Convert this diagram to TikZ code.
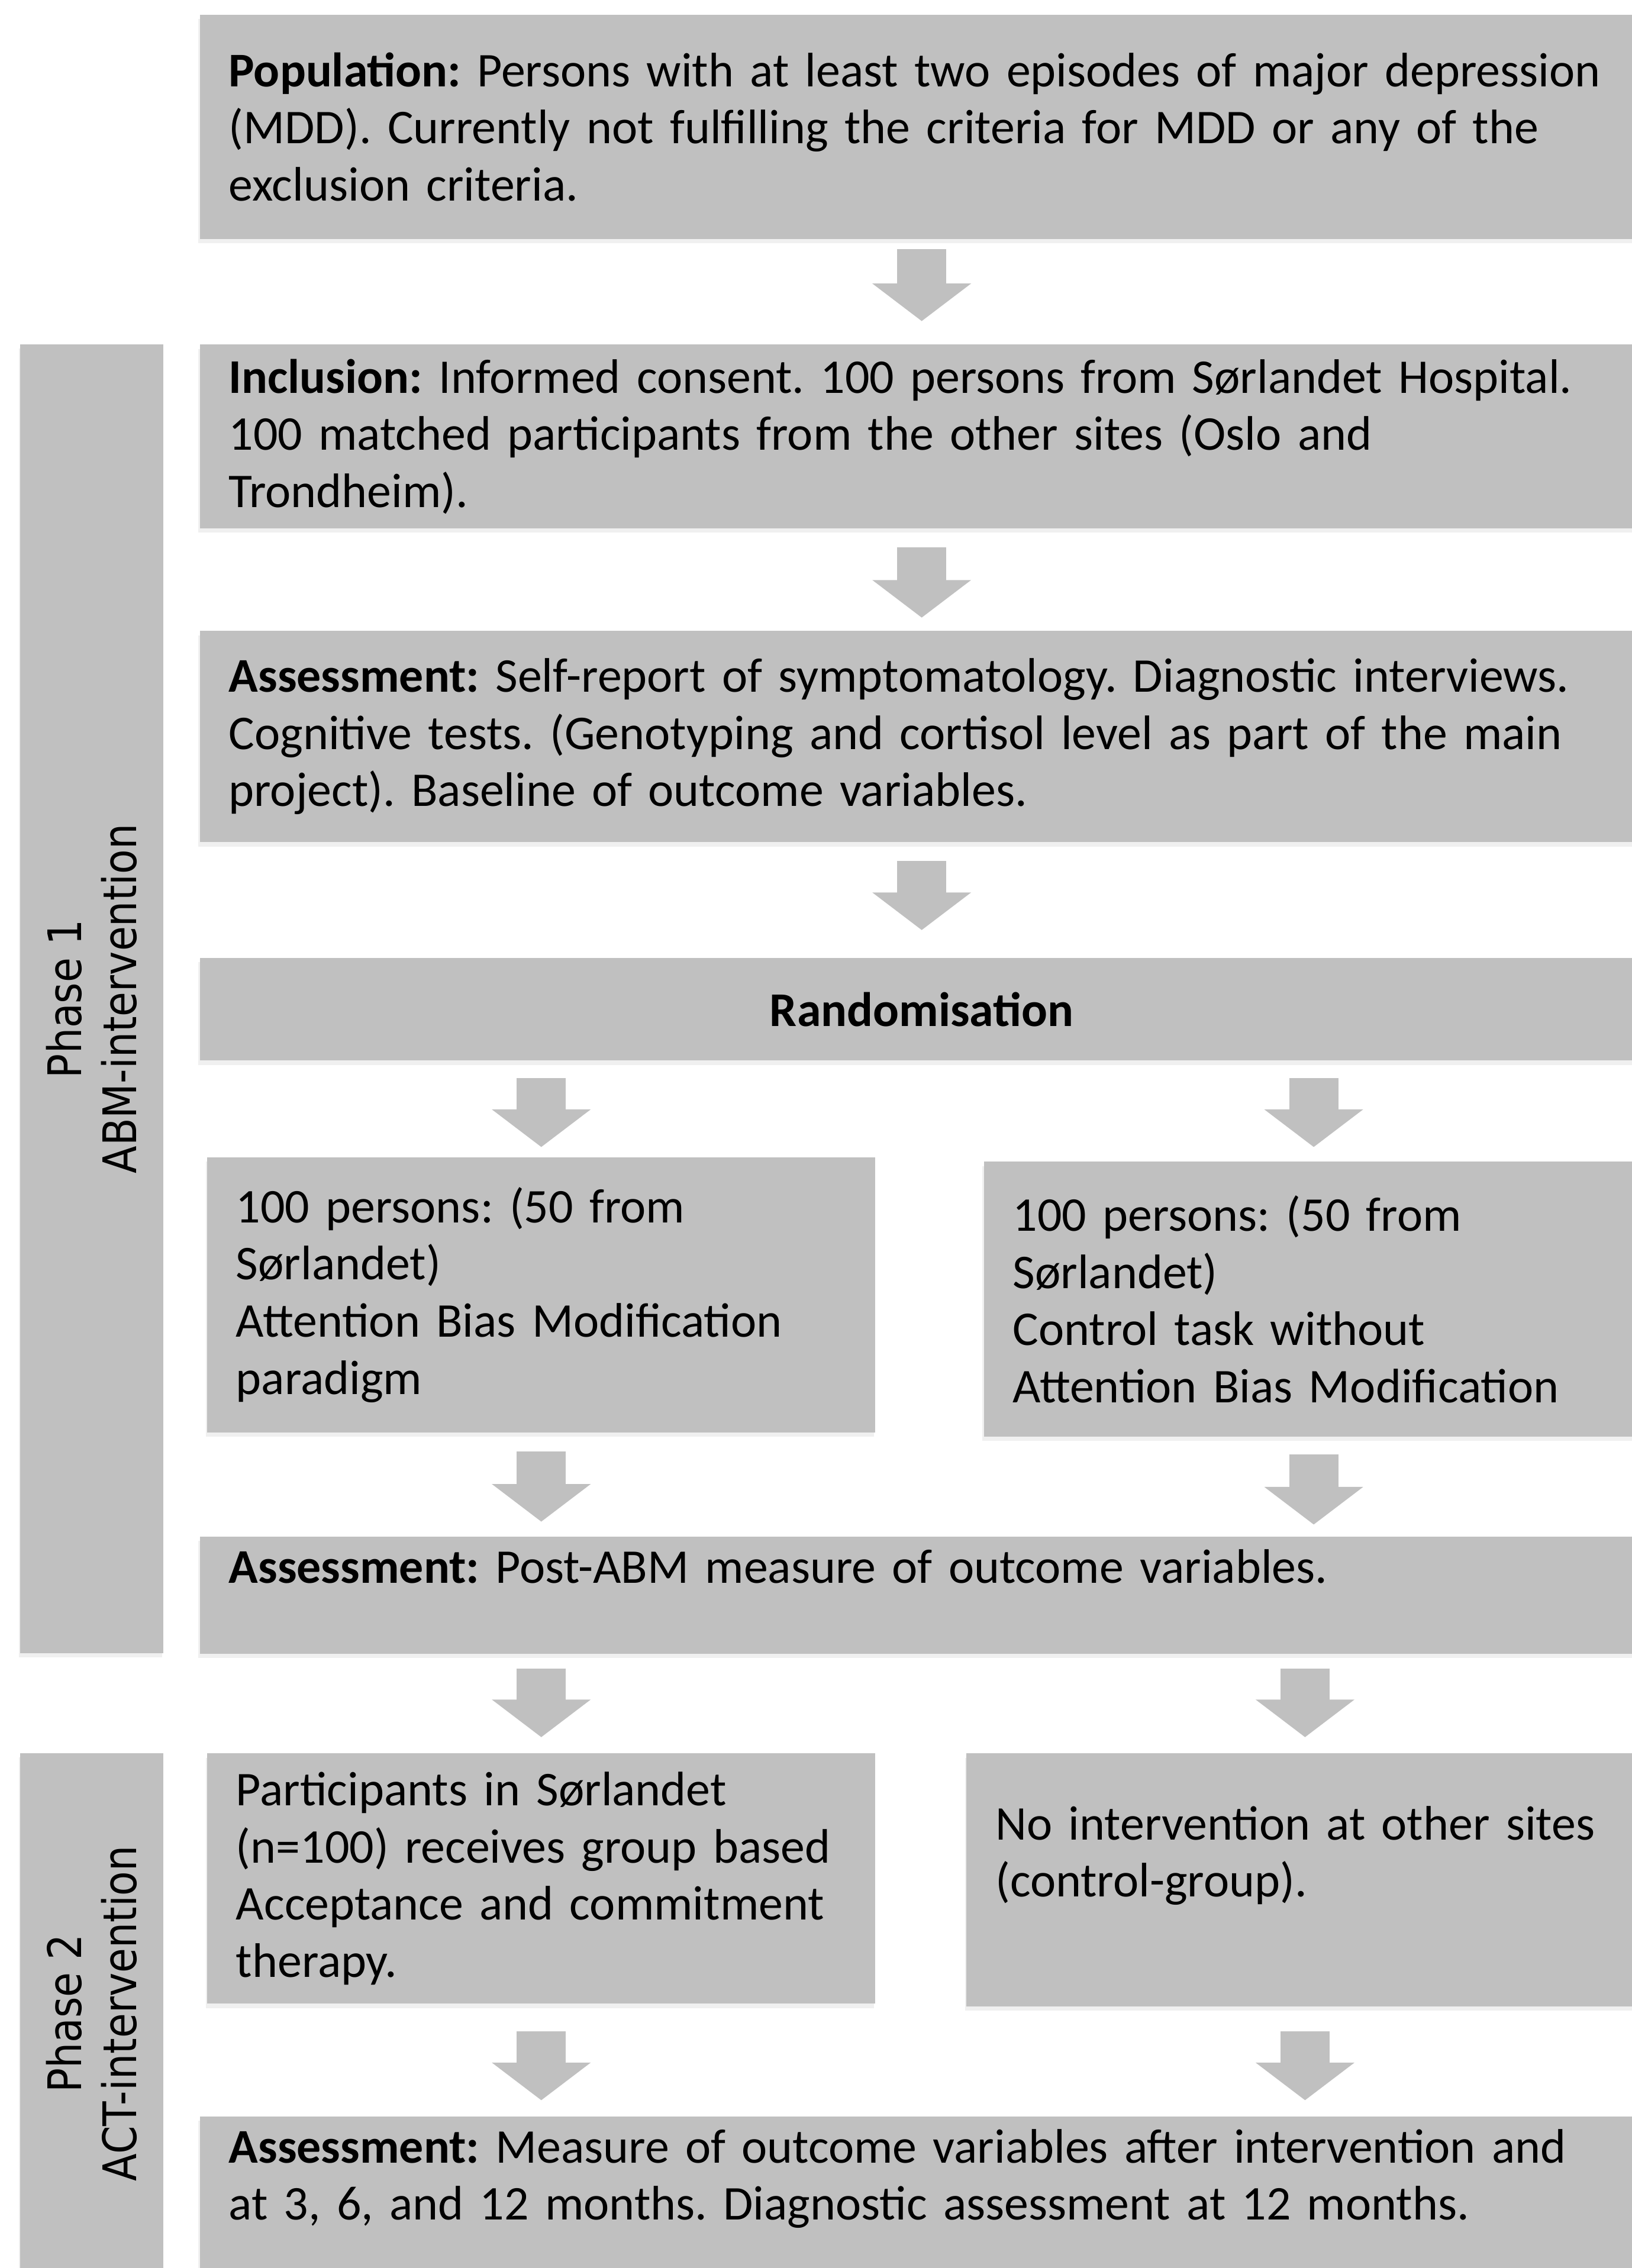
\documentclass[tikz,border=0pt]{standalone}
\usepackage{fontspec}
\setmainfont{Carlito}
\newfontfamily\sidefont[FakeStretch=0.87]{DejaVu Sans}
\usetikzlibrary{arrows.meta,shadows}
\definecolor{boxgrey}{RGB}{192,192,192}
\frenchspacing

\tikzset{
  stagebox/.style={rectangle, fill=boxgrey, anchor=north west, align=left,
    inner xsep=20pt, inner ysep=0pt,
    font=\fontsize{33.5}{39.5}\selectfont,
    drop shadow={shadow xshift=-1pt, shadow yshift=-3pt, opacity=0.12}},
  phasebox/.style={rectangle, fill=boxgrey, rotate=90, align=center,
    inner sep=0pt, font=\sidefont\fontsize{32}{38}\selectfont,
    drop shadow={shadow xshift=-1pt, shadow yshift=-3pt, opacity=0.12}},
  flowarrow/.style={line width=34pt, draw=boxgrey,
    -{Triangle[length=26pt,width=67pt]}},
}

\begin{document}
\begin{tikzpicture}[x=1pt, y=-1pt]
  \useasboundingbox (0,0) rectangle (1128,1568);

  % phase bars
  \node[phasebox, minimum width=905pt, minimum height=99pt] (ph1) at (63.5,690.5)
    {Phase 1\\ABM-intervention};
  \node[phasebox, minimum width=360pt, minimum height=99pt] (ph2) at (63.5,1392)
    {Phase 2\\ACT-intervention};

  % main column
  \node[stagebox, text width=958pt, minimum height=155pt] (pop) at (138,10)
    {\textbf{Population:} Persons with at least two episodes of major depression\\
     (MDD). Currently not fulfilling the criteria for MDD or any of the\\
     exclusion criteria.};
  \node[stagebox, text width=958pt, minimum height=127pt] (incl) at (138,238)
    {\textbf{Inclusion:} Informed consent. 100 persons from Sørlandet Hospital.\\
     100 matched participants from the other sites (Oslo and\\
     Trondheim).};
  \node[stagebox, text width=958pt, minimum height=146pt] (base) at (138,436)
    {\textbf{Assessment:} Self-report of symptomatology. Diagnostic interviews.\\
     Cognitive tests. (Genotyping and cortisol level as part of the main\\
     project). Baseline of outcome variables.};
  \node[stagebox, text width=958pt, minimum height=71pt, align=center] (rand) at (138,662)
    {\textbf{Randomisation}};

  % ABM arms
  \node[stagebox, text width=422pt, minimum height=190pt] (abm) at (143,800)
    {100 persons: (50 from\\ Sørlandet)\\ Attention Bias Modification\\ paradigm};
  \node[stagebox, text width=416pt, minimum height=190pt] (ctrl) at (680,803)
    {100 persons: (50 from\\ Sørlandet)\\ Control task without\\ Attention Bias Modification};
  \node[stagebox, text width=958pt, minimum height=81pt] (post) at (138,1062)
    {\textbf{Assessment:} Post-ABM measure of outcome variables.\\ \mbox{}};

  % ACT arms
  \node[stagebox, text width=422pt, minimum height=173pt] (act) at (143,1212)
    {Participants in Sørlandet\\ (n=100) receives group based\\
     Acceptance and commitment\\ therapy.};
  \node[stagebox, text width=428pt, minimum height=175pt] (noint) at (668,1212)
    {No intervention at other sites\\ (control-group).\\ \mbox{}};
  \node[stagebox, text width=958pt, minimum height=120pt] (follow) at (138,1463)
    {\textbf{Assessment:} Measure of outcome variables after intervention and\\
     at 3, 6, and 12 months. Diagnostic assessment at 12 months.\\ \mbox{}};

  % arrows
  \foreach \a/\b/\s/\e in {pop/incl/7pt/16pt, incl/base/13pt/9pt, base/rand/13pt/19pt}
    \draw[flowarrow, shorten <=\s, shorten >=\e] (\a) -- (\b);
  \draw[flowarrow, shorten <=12pt, shorten >=7pt] (rand.south -| abm.north) -- (abm.north);
  \draw[flowarrow, shorten <=12pt, shorten >=10pt] (rand.south -| ctrl.north) -- (ctrl.north);
  \draw[flowarrow, shorten <=13pt, shorten >=10pt] (abm.south) -- (abm.south |- post.north);
  \draw[flowarrow, shorten <=12pt, shorten >=8pt] (ctrl.south) -- (ctrl.south |- post.north);
  \draw[flowarrow, shorten <=10pt, shorten >=11pt] (post.south -| act.north) -- (act.north);
  \draw[flowarrow, shorten <=10pt, shorten >=11pt] (post.south -| noint.north) -- (noint.north);
  \draw[flowarrow, shorten <=19pt, shorten >=11pt] (act.south) -- (act.south |- follow.north);
  \draw[flowarrow, shorten <=17pt, shorten >=11pt] (noint.south) -- (noint.south |- follow.north);
\end{tikzpicture}
\end{document}
